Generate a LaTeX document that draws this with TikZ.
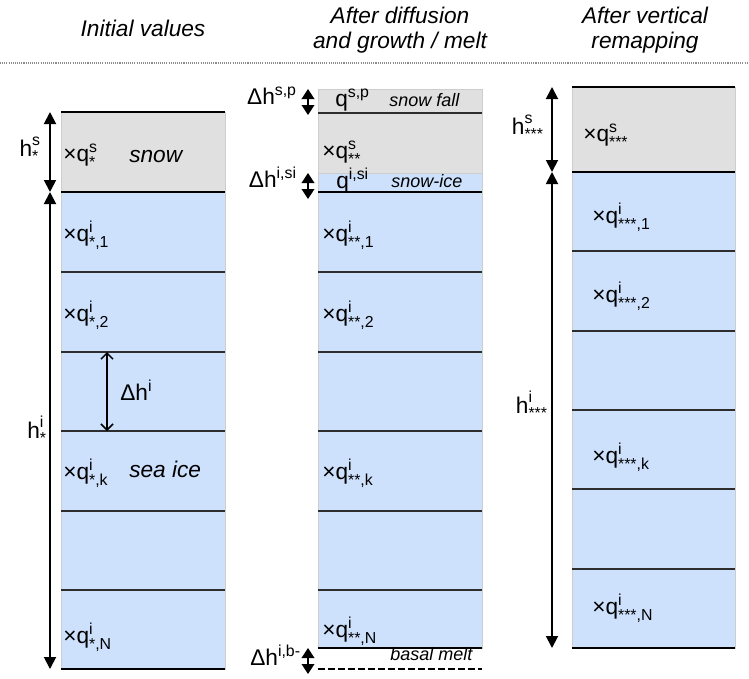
\documentclass[tikz,border=0pt]{standalone}
\usepackage{amsmath}
\usepackage{fontspec}
\setmainfont{Liberation Sans}
\usepackage{tikz}
\usetikzlibrary{arrows.meta}
\definecolor{snowgray}{RGB}{224,224,224}
\definecolor{iceblue}{RGB}{205,224,252}
\definecolor{edgegray}{RGB}{205,205,205}
\definecolor{linegray}{RGB}{45,45,45}
\definecolor{dotgray}{RGB}{140,140,140}
\newcommand{\qlab}[2]{$\text{q}^{\text{#1}}_{\text{#2}}$}
\newcommand{\hlab}[3]{$\text{#1}^{\text{#2}}_{\text{#3}}$}
\tikzset{
  snowlayer/.style={fill=snowgray, draw=edgegray, line width=0.6pt},
  icelayer/.style={fill=iceblue, draw=edgegray, line width=0.6pt},
  layerline/.style={draw=linegray, line width=0.9pt},
  thickline/.style={draw=black, line width=2pt},
  meltline/.style={draw=black, line width=1.6pt, dash pattern=on 5pt off 2.5pt},
  sepline/.style={draw=dotgray, line width=0.8pt, dash pattern=on 0.8pt off 0.8pt},
  hdim/.style={{Triangle[length=9pt,width=9pt]}-{Triangle[length=9pt,width=9pt]}, line width=1.4pt},
  smalldim/.style={{Triangle[length=7.5pt,width=9.5pt]}-{Triangle[length=7.5pt,width=9.5pt]}, line width=1.2pt},
  layerdim/.style={{Straight Barb[length=4.5pt,width=9pt]}-{Straight Barb[length=4.5pt,width=9pt]}, line width=1.1pt},
  qtext/.style={anchor=base west, inner sep=0pt, font=\fontsize{17}{20}\selectfont},
  htext/.style={anchor=base east, inner sep=0pt, font=\fontsize{17}{20}\selectfont},
  tagtext/.style={anchor=base west, inner sep=0pt, font=\fontsize{17}{20}\selectfont\itshape},
  smalltag/.style={anchor=base west, inner sep=0pt, font=\fontsize{13.5}{16}\selectfont\itshape},
  header/.style={align=center, inner sep=0pt, font=\fontsize{17}{19}\selectfont\itshape}
}
\begin{document}
\begin{tikzpicture}[x=0.75pt,y=-0.75pt]
\useasboundingbox (0,0) rectangle (749,678);

% column headers
\node[header] (head1) at (143,28) {Initial values};
\node[header] (head2) at (400,30) {After diffusion\\and growth / melt};
\node[header] (head3) at (645,30) {After vertical\\remapping};
\draw[sepline] (0,63) -- (749,63);

% --- initial values ---
\path[snowlayer] (61,112) rectangle (225,192);
\path[icelayer] (61,192) rectangle (225,669);
\foreach \y in {272,352,431,511,590}
  \draw[layerline] (61,\y) -- (225,\y);
\draw[thickline] (61,112) -- (225,112);
\draw[thickline] (61,192) -- (225,192);
\draw[thickline] (61,669) -- (225,669);

\coordinate (ini-top) at (50,112);
\coordinate (ini-mid) at (50,192);
\coordinate (ini-bot) at (50,669);
\draw[hdim] (ini-top) -- (ini-mid);
\draw[hdim] (ini-mid) -- (ini-bot);
\coordinate (lay-top) at (107,352);
\coordinate (lay-bot) at (107,431);
\draw[layerdim] (lay-top) -- (lay-bot);

\node[htext] (ini-hs) at (41,156) {\hlab{h}{s}{*}};
\node[htext] (ini-hi) at (47,438) {\hlab{h}{i}{*}};
\node[qtext] (ini-dh) at (120,400) {Δh\textsuperscript{i}};
\node[qtext] (ini-qs) at (63,161) {×\qlab{s}{*}};
\node[tagtext] (ini-snow) at (129,162) {snow};
\node[qtext] (ini-q1) at (63,241) {×\qlab{i}{*,1}};
\node[qtext] (ini-q2) at (63,321) {×\qlab{i}{*,2}};
\node[qtext] (ini-qk) at (63,479) {×\qlab{i}{*,k}};
\node[tagtext] (ini-ice) at (129,477) {sea ice};
\node[qtext] (ini-qn) at (63,643) {×\qlab{i}{*,N}};

% --- after diffusion and growth / melt ---
\path[snowlayer] (318,89) rectangle (482,173);
\path[icelayer] (318,173) rectangle (482,648);
\draw[layerline] (318,113) -- (482,113);
\foreach \y in {272,352,431,511,590}
  \draw[layerline] (318,\y) -- (482,\y);
\draw[thickline] (318,192) -- (482,192);
\draw[thickline] (318,648) -- (482,648);
\draw[meltline] (318,669) -- (482,669);

\coordinate (sp-top) at (308,89);
\coordinate (sp-bot) at (308,115);
\draw[smalldim] (sp-top) -- (sp-bot);
\coordinate (si-top) at (308,173);
\coordinate (si-bot) at (308,199);
\coordinate (bm-top) at (308,648);
\coordinate (bm-bot) at (308,674);
\draw[smalldim] (si-top) -- (si-bot);
\draw[smalldim] (bm-top) -- (bm-bot);

\node[htext] (dif-dsp) at (297,104) {Δh\textsuperscript{s,p}};
\node[htext] (dif-dsi) at (297,187) {Δh\textsuperscript{i,si}};
\node[htext] (dif-dbm) at (301,665) {Δh\textsuperscript{i,b-}};
\node[qtext] (dif-qsp) at (335,106) {q\textsuperscript{s,p}};
\node[smalltag] (dif-fall) at (389,106) {snow fall};
\node[qtext] (dif-qs) at (322,158) {×\qlab{s}{**}};
\node[qtext] (dif-qsi) at (336,188) {q\textsuperscript{i,si}};
\node[smalltag] (dif-snowice) at (391,187) {snow-ice};
\node[qtext] (dif-q1) at (322,241) {×\qlab{i}{**,1}};
\node[qtext] (dif-q2) at (322,321) {×\qlab{i}{**,2}};
\node[qtext] (dif-qk) at (322,479) {×\qlab{i}{**,k}};
\node[qtext] (dif-qn) at (322,637) {×\qlab{i}{**,N}};
\node[smalltag] (dif-melt) at (390,660) {basal melt};

% --- after vertical remapping ---
\path[snowlayer] (572,87) rectangle (735,172);
\path[icelayer] (572,172) rectangle (735,648);
\foreach \y in {251,331,410,489,569}
  \draw[layerline] (572,\y) -- (735,\y);
\draw[thickline] (572,87) -- (735,87);
\draw[thickline] (572,172) -- (735,172);
\draw[thickline] (572,648) -- (735,648);

\coordinate (rem-top) at (552,87);
\coordinate (rem-mid) at (552,172);
\coordinate (rem-bot) at (552,648);
\draw[hdim] (rem-top) -- (rem-mid);
\draw[hdim] (rem-mid) -- (rem-bot);

\node[htext] (rem-hs) at (544,134) {\hlab{h}{s}{***}};
\node[htext] (rem-hi) at (548,413) {\hlab{h}{i}{***}};
\node[qtext] (rem-qs) at (583,141) {×\qlab{s}{***}};
\node[qtext] (rem-q1) at (592,223) {×\qlab{i}{***,1}};
\node[qtext] (rem-q2) at (592,302) {×\qlab{i}{***,2}};
\node[qtext] (rem-qk) at (592,463) {×\qlab{i}{***,k}};
\node[qtext] (rem-qn) at (592,614) {×\qlab{i}{***,N}};
\end{tikzpicture}
\end{document}
